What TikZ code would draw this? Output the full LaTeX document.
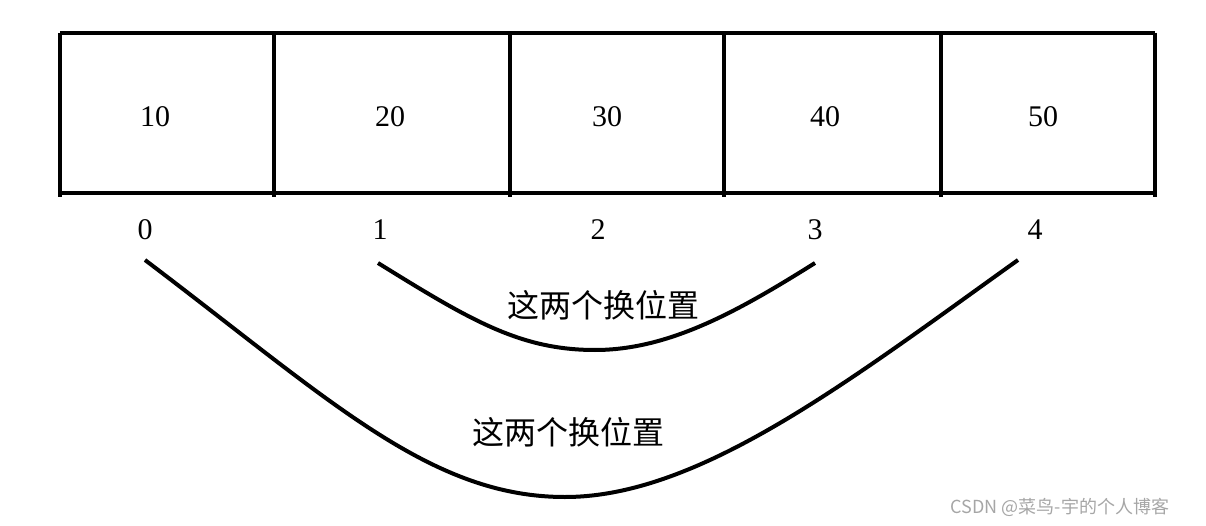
\documentclass[tikz,border=0pt]{standalone}
\usepackage{fontspec}
\setmainfont{Liberation Serif}
\newfontfamily\cjk{Noto Sans CJK SC}
\begin{document}
\begin{tikzpicture}[x=1pt,y=-1pt,
  thk/.style={line width=4pt},
  cell/.style={font=\fontsize{30}{33}\selectfont},
  lab/.style={font=\cjk\fontsize{32}{35}\selectfont}]
\useasboundingbox (0,0) rectangle (1206,526);
\draw[thk] (60,33) -- (1155,33) (60,193) -- (1155,193);
\foreach \x in {60,274,510,724,941,1155} \draw[thk] (\x,33) -- (\x,197);
\foreach \x/\v/\n in {155/10/a,390/20/b,607/30/c,825/40/d,1043/50/e}
  \node[cell] (v\n) at (\x,117) {\v};
\foreach \x/\v in {145/0,380/1,598/2,815/3,1035/4}
  \node[cell] (i\v) at (\x,230) {\v};
\draw[thk] (145,260) .. controls (330,400) and (430,497) .. (565,497) .. controls (700,497) and (850,380) .. (1018,260);
\draw[thk] (378,263) .. controls (470,320) and (520,350) .. (595,350) .. controls (670,350) and (740,310) .. (815,263);
\node[lab] (t1) at (603,305) {这两个换位置};
\node[lab] (t2) at (568,432) {这两个换位置};
\node[font=\cjk\fontsize{18}{20}\selectfont, text=gray!70] (w) at (1060,507) {CSDN @菜鸟-宇的个人博客};
\end{tikzpicture}
\end{document}
